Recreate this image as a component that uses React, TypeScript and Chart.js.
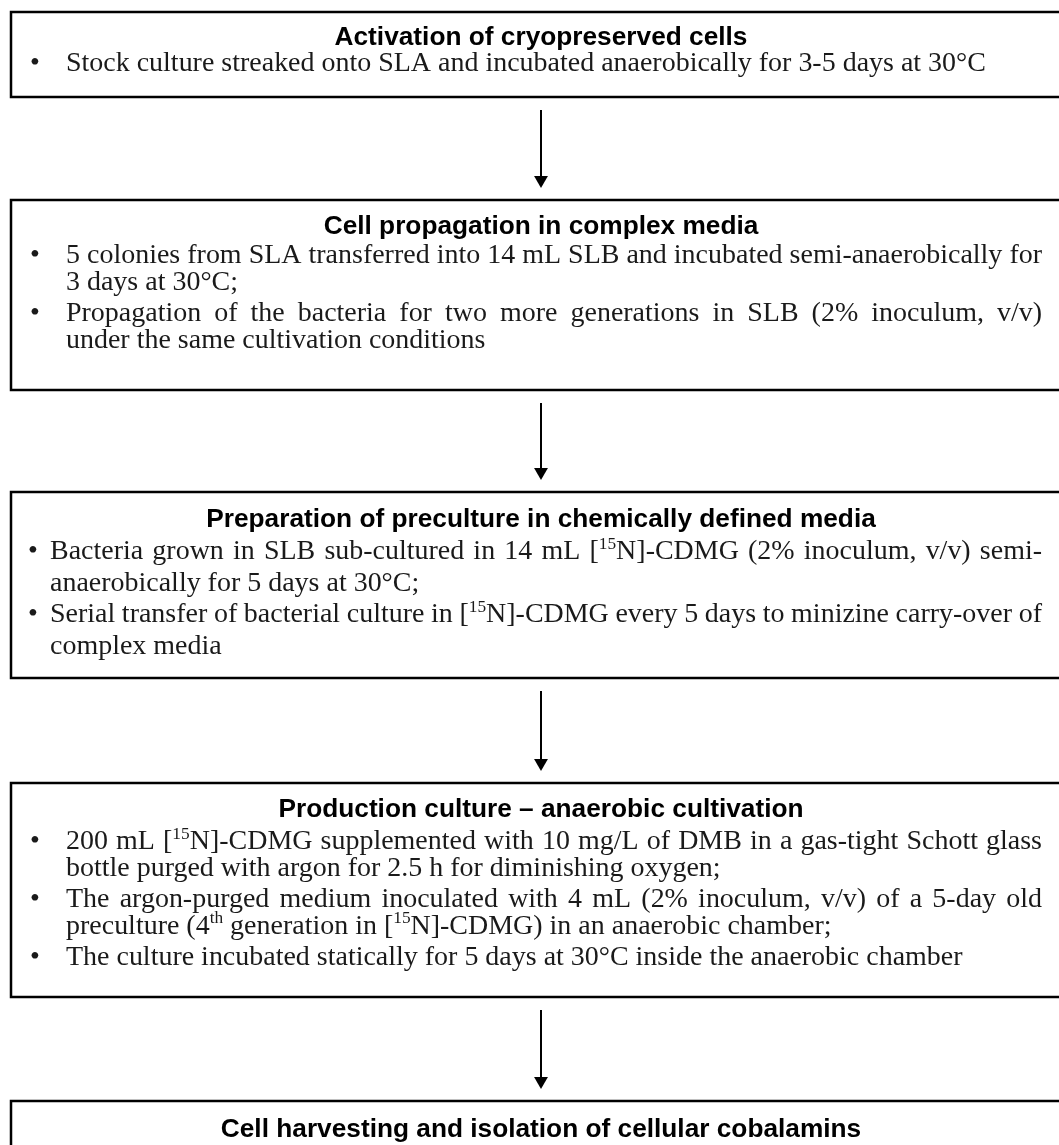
import React, { useEffect, useRef } from "react";
import { Chart, registerables } from "chart.js";

Chart.register(...registerables);

// ---------- content ----------
const stepTitles = [
  "Activation of cryopreserved cells",
  "Cell propagation in complex media",
  "Preparation of preculture in chemically defined media",
  "Production culture – anaerobic cultivation",
  "Cell harvesting and isolation of cellular cobalamins",
];

// ^...^ marks superscript text; each inner array is one bullet, split into its printed lines
const step1Bullets = [
  ["Stock culture streaked onto SLA and incubated anaerobically for 3-5 days at 30°C"],
];
const step2Bullets = [
  [
    "5 colonies from SLA transferred into 14 mL SLB and incubated semi-anaerobically for",
    "3 days at 30°C;",
  ],
  [
    "Propagation of the bacteria for two more generations in SLB (2% inoculum, v/v)",
    "under the same cultivation conditions",
  ],
];
const step3Bullets = [
  [
    "Bacteria grown in SLB sub-cultured in 14 mL [^15^N]-CDMG (2% inoculum, v/v) semi-",
    "anaerobically for 5 days at 30°C;",
  ],
  [
    "Serial transfer of bacterial culture in [^15^N]-CDMG every 5 days to minizine carry-over of",
    "complex media",
  ],
];
const step4Bullets = [
  [
    "200 mL [^15^N]-CDMG supplemented with 10 mg/L of DMB in a gas-tight Schott glass",
    "bottle purged with argon for 2.5 h for diminishing oxygen;",
  ],
  [
    "The argon-purged medium inoculated with 4 mL (2% inoculum, v/v) of a 5-day old",
    "preculture (4^th^ generation in [^15^N]-CDMG) in an anaerobic chamber;",
  ],
  ["The culture incubated statically for 5 days at 30°C inside the anaerobic chamber"],
];
const step5Bullets: string[][] = [];

const allBullets = [step1Bullets, step2Bullets, step3Bullets, step4Bullets, step5Bullets];

// ---------- layout (page units, 1 unit = 1 px) ----------
const PAGE_W = 1059;
const PAGE_H = 1145;
const BOX_LEFT = 11;
const BOX_RIGHT = 1075;
const TEXT_RIGHT = 1042;
const CENTER_X = 541;
const boxTop = [12, 200, 492, 783, 1101];
const boxBottom = [97, 390, 678, 997, 1200];
const titleOffset = [33, 34, 35, 34, 36];
const firstGap = [26, 29, 32, 32, 0];
const withinGap = [27, 27, 32, 26.5, 0];
const betweenGap = [31, 31, 31, 31.5, 0];
const bulletX = [35, 35, 33, 35, 35];
const textX = [66, 66, 50, 66, 66];

const BODY_FAMILY = '"Liberation Serif", "DejaVu Serif", serif';
const TITLE_FAMILY = '"Liberation Sans", Arial, sans-serif';
const BODY_REF_WIDTH = 920; // printed width of the first bullet line
const TITLE_REF_WIDTH = 413; // printed width of the first title

type Seg = { t: string; sup: boolean };
function parseSegs(s: string): Seg[] {
  return s
    .split("^")
    .map((t, i) => ({ t, sup: i % 2 === 1 }))
    .filter((p) => p.t.length > 0);
}
function segFont(sup: boolean, size: number) {
  return `${sup ? size * 0.62 : size}px ${BODY_FAMILY}`;
}
function measureRich(ctx: CanvasRenderingContext2D, s: string, size: number) {
  let w = 0;
  for (const seg of parseSegs(s)) {
    ctx.font = segFont(seg.sup, size);
    w += ctx.measureText(seg.t).width;
  }
  return w;
}
function drawRich(ctx: CanvasRenderingContext2D, s: string, x: number, y: number, size: number) {
  let cx = x;
  for (const seg of parseSegs(s)) {
    ctx.font = segFont(seg.sup, size);
    ctx.fillText(seg.t, cx, seg.sup ? y - size * 0.36 : y);
    cx += ctx.measureText(seg.t).width;
  }
}

const flowPlugin = {
  id: "flowBoxes",
  afterDraw(chart: any) {
    const ctx: CanvasRenderingContext2D = chart.ctx;
    const xs = chart.scales.x;
    const ys = chart.scales.y;
    const X = (v: number) => xs.getPixelForValue(v);
    const Y = (v: number) => ys.getPixelForValue(v);

    ctx.save();
    ctx.textBaseline = "alphabetic";
    ctx.font = `bold 20px ${TITLE_FAMILY}`;
    const titleSize = (20 * TITLE_REF_WIDTH) / ctx.measureText(stepTitles[0]).width;
    const bodySize = (20 * BODY_REF_WIDTH) / measureRich(ctx, step1Bullets[0][0], 20);

    stepTitles.forEach((title, i) => {
      ctx.strokeStyle = "#000";
      ctx.lineWidth = 2.5;
      ctx.strokeRect(X(BOX_LEFT), Y(boxTop[i]), X(BOX_RIGHT) - X(BOX_LEFT), Y(boxBottom[i]) - Y(boxTop[i]));
      ctx.fillStyle = "#000";
      ctx.textAlign = "center";
      ctx.font = `bold ${titleSize}px ${TITLE_FAMILY}`;
      let base = boxTop[i] + titleOffset[i];
      ctx.fillText(title, X(CENTER_X), Y(base));
      ctx.fillStyle = "#1a1a1a";
      let first = true;
      allBullets[i].forEach((lines) => {
        lines.forEach((line, li) => {
          if (first) base += firstGap[i];
          else base += li === 0 ? betweenGap[i] : withinGap[i];
          first = false;
          const yb = Y(base);
          if (li === 0) {
            ctx.textAlign = "center";
            ctx.font = `${bodySize}px ${BODY_FAMILY}`;
            ctx.fillText("•", X(bulletX[i]), yb);
          }
          ctx.textAlign = "left";
          const justify = li < lines.length - 1;
          if (!justify) {
            drawRich(ctx, line, X(textX[i]), yb, bodySize);
          } else {
            const words = line.split(" ");
            const widths = words.map((w) => measureRich(ctx, w, bodySize));
            const total = widths.reduce((a, b) => a + b, 0);
            const gap = (X(TEXT_RIGHT) - X(textX[i]) - total) / (words.length - 1);
            let cx = X(textX[i]);
            words.forEach((w, wi) => {
              drawRich(ctx, w, cx, yb, bodySize);
              cx += widths[wi] + gap;
            });
          }
        });
      });
    });
    ctx.restore();
  },
};

export default function App() {
  const ref = useRef<HTMLCanvasElement | null>(null);
  useEffect(() => {
    if (!ref.current) return;
    const linePts: { x: number; y: number | null }[] = [];
    const headPts: { x: number; y: number }[] = [];
    const headR = 8;
    for (let i = 0; i < boxTop.length - 1; i++) {
      const start = boxBottom[i] + 13;
      const tip = boxTop[i + 1] - 12;
      linePts.push({ x: CENTER_X, y: start }, { x: CENTER_X, y: tip - headR }, { x: CENTER_X, y: null });
      headPts.push({ x: CENTER_X, y: tip - headR });
    }
    const chart = new Chart(ref.current, {
      type: "scatter",
      data: {
        datasets: [
          {
            data: linePts as any,
            showLine: true,
            spanGaps: false,
            borderColor: "#000",
            borderWidth: 2,
            pointRadius: 0,
          },
          {
            data: headPts,
            pointStyle: "triangle",
            rotation: 180,
            pointRadius: headR,
            backgroundColor: "#000",
            borderColor: "#000",
            borderWidth: 0,
          },
        ],
      },
      options: {
        animation: false,
        responsive: false,
        devicePixelRatio: 1,
        layout: { padding: 0, autoPadding: false },
        plugins: { legend: { display: false }, tooltip: { enabled: false } },
        events: [],
        scales: {
          x: { type: "linear", min: 0, max: PAGE_W, display: false },
          y: { type: "linear", min: 0, max: PAGE_H, reverse: true, display: false },
        },
      },
      plugins: [flowPlugin],
    });
    return () => chart.destroy();
  }, []);
  return (
    <div style={{ position: "absolute", left: 0, top: 0, width: PAGE_W, height: PAGE_H, overflow: "hidden", background: "#fff" }}>
      <canvas ref={ref} width={PAGE_W} height={PAGE_H} style={{ display: "block" }} />
    </div>
  );
}
